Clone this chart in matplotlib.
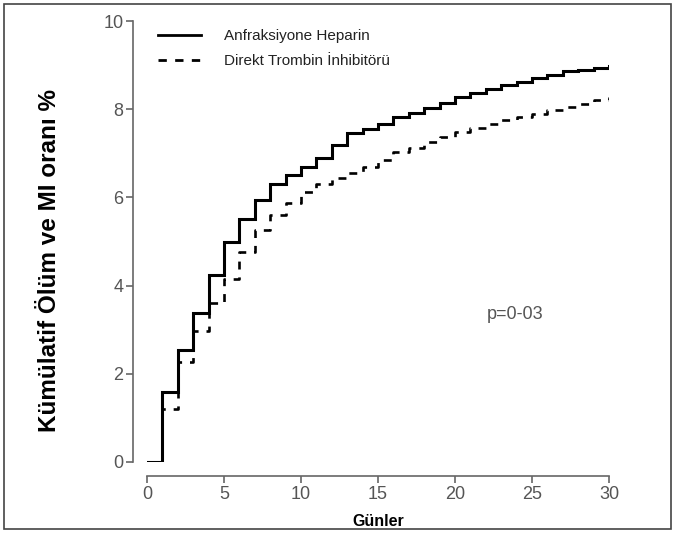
import matplotlib
matplotlib.use("Agg")
import matplotlib.pyplot as plt
from matplotlib.lines import Line2D
from matplotlib.patches import Rectangle

plt.rcParams["font.family"] = ["Liberation Sans", "DejaVu Sans"]

# days since randomisation
days = list(range(0, 31))

# cumulative death / MI rate, %
heparin = [0, 1.59, 2.54, 3.39, 4.24, 4.98, 5.52, 5.93, 6.30, 6.50,
           6.68, 6.89, 7.19, 7.45, 7.55, 7.66, 7.82, 7.91, 8.02, 8.15,
           8.28, 8.37, 8.45, 8.56, 8.62, 8.70, 8.78, 8.87, 8.89, 8.93, 8.98]
dti = [0, 1.20, 2.27, 2.98, 3.60, 4.16, 4.77, 5.26, 5.60, 5.88,
       6.13, 6.30, 6.45, 6.55, 6.70, 6.85, 7.02, 7.12, 7.25, 7.37,
       7.48, 7.58, 7.67, 7.75, 7.83, 7.90, 7.98, 8.05, 8.12, 8.20, 8.28]

labels = ["Anfraksiyone Heparin", "Direkt Trombin İnhibitörü"]
x_ticks = [0, 5, 10, 15, 20, 25, 30]
y_ticks = [0, 2, 4, 6, 8, 10]
p_text = "p=0-03"

fig = plt.figure(figsize=(6.76, 5.34), dpi=100)
ax = fig.add_axes([147 / 676, 72 / 534, 462 / 676, 441 / 534])

ax.plot(days, heparin, drawstyle="steps-post", color="black", lw=2.2,
        solid_joinstyle="miter")
ax.plot(days, dti, drawstyle="steps-post", color="black", lw=1.9,
        linestyle=(0, (3, 3)))

ax.set_xlim(0, 30)
ax.set_ylim(0, 10)
ax.set_xticks(x_ticks)
ax.set_yticks(y_ticks)

for s in ("top", "right"):
    ax.spines[s].set_visible(False)
for s in ("left", "bottom"):
    ax.spines[s].set_position(("outward", 10))
    ax.spines[s].set_color("#666666")
    ax.spines[s].set_linewidth(1.2)
ax.spines["left"].set_bounds(0, 10)
ax.spines["bottom"].set_bounds(0, 30)
ax.tick_params(axis="both", colors="#666666", labelcolor="#555555",
               labelsize=13, length=5, width=1.2, pad=2)

ax.set_ylabel("Kümülatif Ölüm ve MI oranı %", fontsize=17.5,
              fontweight="bold")
ax.yaxis.set_label_coords(-0.186, 0.458)
ax.set_xlabel("Günler", fontsize=11.5, fontweight="bold", labelpad=8)

handles = [Line2D([], [], color="black", lw=2.0),
           Line2D([], [], color="black", lw=2.0, linestyle=(0, (3, 3)))]
ax.legend(handles, labels, loc="upper left", bbox_to_anchor=(-0.005, 1.012),
          frameon=False, fontsize=11, handlelength=2.8, handletextpad=1.5,
          labelspacing=0.7, labelcolor="#222222")

ax.text(0.735, 0.325, p_text, transform=ax.transAxes, fontsize=13,
        color="#555555")

fig.patches.append(Rectangle((4 / 676, 5 / 534), 667 / 676, 525 / 534,
                             transform=fig.transFigure, fill=False,
                             edgecolor="#444444", lw=1.2))

fig.savefig("out.png", dpi=100)
